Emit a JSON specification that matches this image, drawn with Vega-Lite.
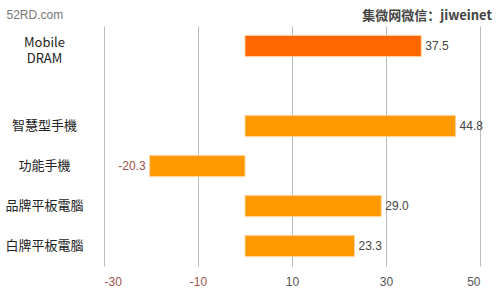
{
  "$schema": "https://vega.github.io/schema/vega-lite/v6.json",
  "width": 376,
  "height": 240,
  "autosize": "none",
  "padding": {"left": 104, "top": 26, "right": 20, "bottom": 28},
  "background": "white",
  "title": {
    "text": "集微网微信：jiweinet",
    "anchor": "end",
    "frame": "group",
    "orient": "top",
    "baseline": "bottom",
    "dx": 12,
    "dy": 15,
    "offset": -13,
    "fontSize": 13,
    "fontWeight": "bold",
    "font": "Noto Sans CJK SC",
    "color": "#444"
  },
  "config": {
    "view": {"stroke": null},
    "font": "Liberation Sans",
    "locale": {
      "number": {"decimal": ".", "thousands": ",", "grouping": [3], "currency": ["$", ""], "minus": "-"}
    }
  },
  "data": {
    "values": [
      {"item": "Mobile DRAM", "value": 37.5, "kind": "dram"},
      {"item": "智慧型手機", "value": 44.8, "kind": "other"},
      {"item": "功能手機", "value": -20.3, "kind": "other"},
      {"item": "品牌平板電腦", "value": 29.0, "kind": "other"},
      {"item": "白牌平板電腦", "value": 23.3, "kind": "other"}
    ]
  },
  "encoding": {
    "y": {
      "field": "item",
      "type": "nominal",
      "scale": {
        "domain": ["Mobile DRAM", "gap", "智慧型手機", "功能手機", "品牌平板電腦", "白牌平板電腦"],
        "paddingInner": 0.47,
        "paddingOuter": 0.235
      },
      "axis": {
        "title": "52RD.com",
        "titleAngle": 0,
        "titleX": -98,
        "titleY": -12,
        "titleAlign": "left",
        "titleBaseline": "middle",
        "titleFontSize": 12,
        "titleFontWeight": "normal",
        "titleColor": "#777",
        "titleFont": "Liberation Sans",
        "domain": false,
        "ticks": false,
        "tickSize": 0,
        "labelPadding": 60,
        "labelAlign": "center",
        "labelBaseline": "middle",
        "labelFontSize": 13,
        "labelLineHeight": 16,
        "labelOffset": {"condition": {"test": "datum.value == 'Mobile DRAM'", "value": -3}, "value": 0},
        "labelFont": "Noto Sans CJK TC",
        "labelColor": "#222",
        "labelExpr": "datum.value == 'Mobile DRAM' ? ['Mobile', 'DRAM'] : (datum.value == 'gap' ? '' : datum.value)"
      }
    },
    "x": {
      "field": "value",
      "type": "quantitative",
      "scale": {"domain": [-30, 50], "nice": false, "zero": false},
      "axis": {
        "title": null,
        "values": [-30, -10, 10, 30, 50],
        "grid": true,
        "gridColor": "#bbbbbb",
        "gridWidth": 1,
        "domain": false,
        "ticks": true,
        "tickColor": "#bbbbbb",
        "tickSize": 0,
        "labelPadding": 10,
        "labelFontSize": 12,
        "labelColor": {"condition": {"test": "datum.value < 0", "value": "#a0524f"}, "value": "#555555"}
      }
    }
  },
  "layer": [
    {
      "mark": {"type": "bar", "stroke": "#ffd9a0", "strokeWidth": 0.8},
      "encoding": {
        "x2": {"datum": 0},
        "color": {
          "field": "kind",
          "type": "nominal",
          "scale": {"domain": ["dram", "other"], "range": ["#ff6600", "#ff9900"]},
          "legend": null
        }
      }
    },
    {
      "transform": [{"filter": "datum.value >= 0"}],
      "mark": {"type": "text", "align": "left", "dx": 4, "fontSize": 12, "color": "#444"},
      "encoding": {"text": {"field": "value", "type": "quantitative", "format": ".1f"}}
    },
    {
      "transform": [{"filter": "datum.value < 0"}],
      "mark": {"type": "text", "align": "right", "dx": -4, "fontSize": 12, "color": "#a0524f"},
      "encoding": {"text": {"field": "value", "type": "quantitative", "format": ".1f"}}
    }
  ]
}
